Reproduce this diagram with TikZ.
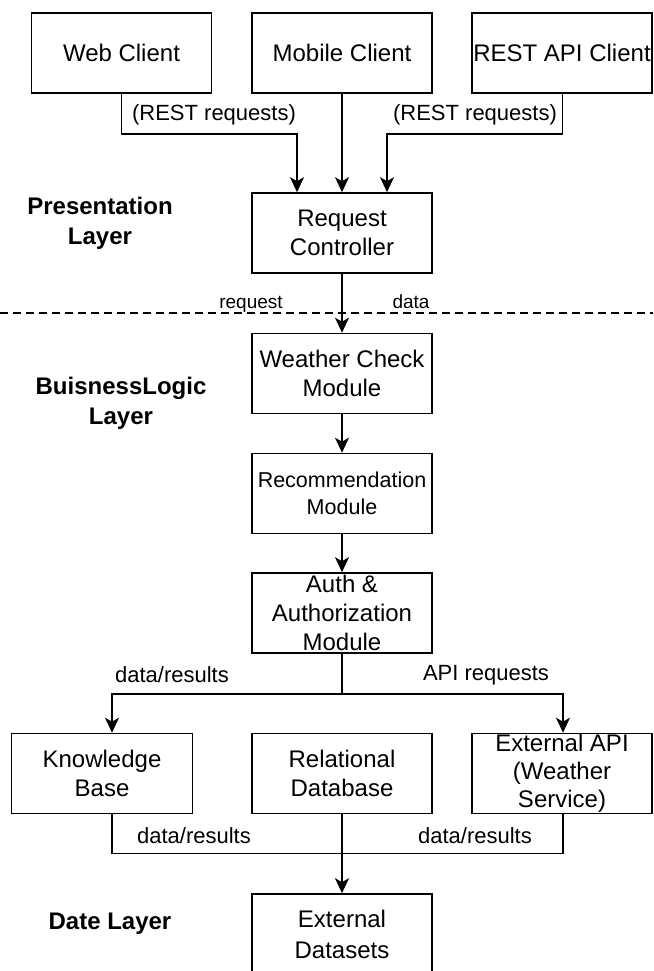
\documentclass[tikz,border=0pt]{standalone}
\usepackage{fontspec}
\setmainfont{Liberation Sans}
\usetikzlibrary{arrows.meta,calc}

\tikzset{
  box/.style={draw, line width=1.6pt, minimum width=180pt, minimum height=80pt,
    inner sep=0pt, align=center, font=\fontsize{24}{29}\selectfont},
  smallbox/.style={box, font=\fontsize{21.5}{26.5}\selectfont},
  link/.style={line width=1.6pt, -{Stealth[length=15pt,width=14pt,inset=4pt]}},
  wire/.style={line width=1.6pt},
  lbl/.style={inner sep=0pt, font=\fontsize{22}{26}\selectfont},
  tiny/.style={inner sep=0pt, anchor=base, font=\fontsize{19}{22}\selectfont},
  layer/.style={inner sep=0pt, align=center, font=\fontsize{24}{30}\selectfont\bfseries},
  divider/.style={line width=1.4pt, dash pattern=on 8pt off 5pt}
}

\begin{document}
\begin{tikzpicture}[x=1pt, y=-1pt]
  \useasboundingbox (0,0) rectangle (653,971);
  \clip (0,0) rectangle (653,971);

  % client tier
  \node[box] (web)    at (121.5,53) {Web Client};
  \node[box] (mobile) at (342,53)   {Mobile Client};
  \node[box] (rest)   at (562,53)   {REST API Client};

  % presentation tier
  \node[box] (ctrl) at (342,233) {Request\\Controller};
  \node[layer] (presL) at (100,223) {Presentation\\Layer};

  % layer boundary
  \coordinate (divL) at (0,313);
  \coordinate (divR) at (653,313);
  \draw[divider] (divL) -- (divR);

  % business logic tier
  \node[box] (weather) at (342,373.5) {Weather Check\\Module};
  \node[smallbox] (recom) at (342,493.5) {Recommendation\\Module};
  \node[box] (auth) at (342,613) {Auth \&\\Authorization\\Module};
  \node[layer] (bizL) at (121,403) {BuisnessLogic\\Layer};

  % data tier
  \node[box, minimum width=181pt] (kb) at (102,773.5) {Knowledge\\Base};
  \node[box] (rdb) at (342,773.5) {Relational\\Database};
  \node[box, font=\fontsize{24}{28}\selectfont] (extapi) at (562,773.5) {External API\\(Weather\\Service)};
  \node[box, font=\fontsize{24}{31}\selectfont] (extds) at (342,934) {External\\Datasets};
  \node[layer] (dataL) at (110,924) {Date Layer};

  % client requests
  \draw[link] (web.south) -- ++(0,40) -| ([xshift=-45pt]ctrl.north);
  \draw[link] (mobile.south) -- (ctrl.north);
  \draw[link] ([xshift=0.5pt]rest.south) -- ++(0,40) -| ([xshift=45pt]ctrl.north);
  \node[lbl] (rq1) at (214,115) {(REST requests)};
  \node[lbl] (rq2) at (475,115) {(REST requests)};

  % into the business logic
  \draw[link] (ctrl.south) -- (weather.north);
  \node[tiny] (reqlbl) at (251,308) {request};
  \node[tiny] (datlbl) at (411,308) {data};

  \draw[link] (weather.south) -- (recom.north);
  \draw[link] (recom.south) -- (auth.north);

  % fan-out to the data sources
  \draw[link] (auth.south) -- ++(0,40) -| ([xshift=10pt]kb.north);
  \draw[link] (auth.south) -- ++(0,40) -| ([xshift=1pt]extapi.north);
  \node[lbl] (res1) at (172,675) {data/results};
  \node[lbl] (apireq) at (486,675) {API requests};

  % collection into the datasets
  \draw[wire] ([xshift=10pt]kb.south) -- ++(0,39) -| ([xshift=1pt]extapi.south);
  \draw[link] (rdb.south) -- (extds.north);
  \node[lbl] (res2) at (194,836) {data/results};
  \node[lbl] (res3) at (475,836) {data/results};
\end{tikzpicture}
\end{document}
